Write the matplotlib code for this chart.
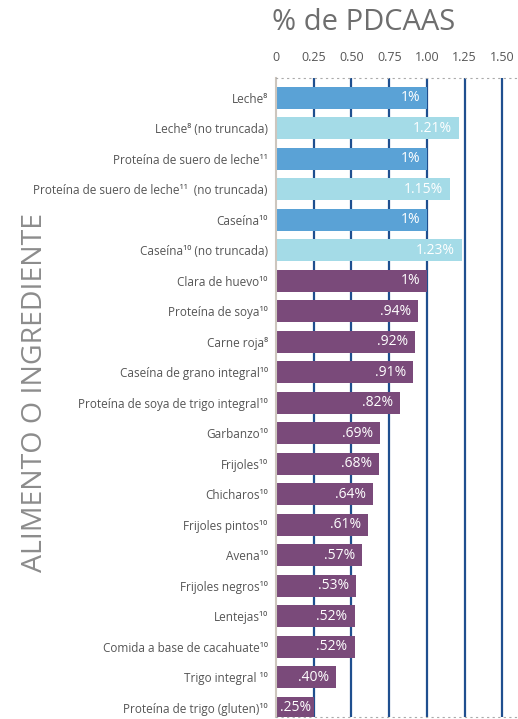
import matplotlib.pyplot as plt

plt.rcParams['font.family'] = ['Open Sans', 'DejaVu Sans']

labels = ['Leche⁸', 'Leche⁸ (no truncada)', 'Proteína de suero de leche¹¹',
          'Proteína de suero de leche¹¹  (no truncada)', 'Caseína¹⁰',
          'Caseína¹⁰ (no truncada)', 'Clara de huevo¹⁰', 'Proteína de soya¹⁰',
          'Carne roja⁸', 'Caseína de grano integral¹⁰',
          'Proteína de soya de trigo integral¹⁰', 'Garbanzo¹⁰', 'Frijoles¹⁰',
          'Chicharos¹⁰', 'Frijoles pintos¹⁰', 'Avena¹⁰', 'Frijoles negros¹⁰',
          'Lentejas¹⁰', 'Comida a base de cacahuate¹⁰', 'Trigo integral ¹⁰',
          'Proteína de trigo (gluten)¹⁰']
values = [1.00, 1.21, 1.00, 1.15, 1.00, 1.23, 1.00, 0.94, 0.92, 0.91, 0.82,
          0.69, 0.68, 0.64, 0.61, 0.57, 0.53, 0.52, 0.52, 0.40, 0.25]
value_text = ['1%', '1.21%', '1%', '1.15%', '1%', '1.23%', '1%', '.94%', '.92%',
              '.91%', '.82%', '.69%', '.68%', '.64%', '.61%', '.57%', '.53%',
              '.52%', '.52%', '.40%', '.25%']
groups = ['milk', 'full', 'milk', 'full', 'milk', 'full'] + ['other'] * 15
xticks = [0, 0.25, 0.5, 0.75, 1.0, 1.25, 1.5]
xtick_labels = ['0', '0.25', '0.50', '0.75', '1.00', '1.25', '1.50']

colors = {'milk': '#5aa2d6', 'full': '#a4dbe7', 'other': '#7a4a7a'}

fig = plt.figure(figsize=(5.18, 7.19), dpi=100)
ax = fig.add_axes([276 / 518, 2 / 719, 242 / 518, 639 / 719])

ypos = list(range(len(values)))
for x in xticks[1:]:
    ax.axvline(x, color='#1f4f8f', lw=1.6, zorder=1)
ax.barh(ypos, values, height=0.72, color=[colors[g] for g in groups], zorder=2)

for y, v, t in zip(ypos, values, value_text):
    pad = -3 if v < 0.3 else -7
    ax.annotate(t, (v, y), xytext=(pad, 0), textcoords='offset pixels',
                ha='right', va='center', color='white', fontsize=10, zorder=3)

ax.set_xlim(0, 1.603)
ax.set_ylim(20.3, -0.65)
ax.set_yticks(ypos)
ax.set_yticklabels(labels, fontsize=8.5, color='#555555')
ax.xaxis.tick_top()
ax.set_xticks(xticks)
ax.set_xticklabels(xtick_labels, fontsize=9, color='#555555')
ax.tick_params(length=0, axis='x', pad=10)
ax.tick_params(length=0, axis='y', pad=6)

ax.spines['right'].set_visible(False)
ax.spines['left'].set_color('#cdc6be')
ax.spines['left'].set_linewidth(1.5)
for s in ['top', 'bottom']:
    ax.spines[s].set_color('#aaaaaa')
    ax.spines[s].set_linestyle((0, (1, 4)))

fig.text(364 / 518, 1 - 22 / 719, '% de PDCAAS', ha='center', va='center',
         fontsize=21, color='#6e6e6e')
fig.text(35 / 518, 1 - 392 / 719, 'ALIMENTO O INGREDIENTE', rotation=90,
         ha='center', va='center', fontsize=20.5, color='#8c8c8c')

fig.savefig('out.png', dpi=100)
